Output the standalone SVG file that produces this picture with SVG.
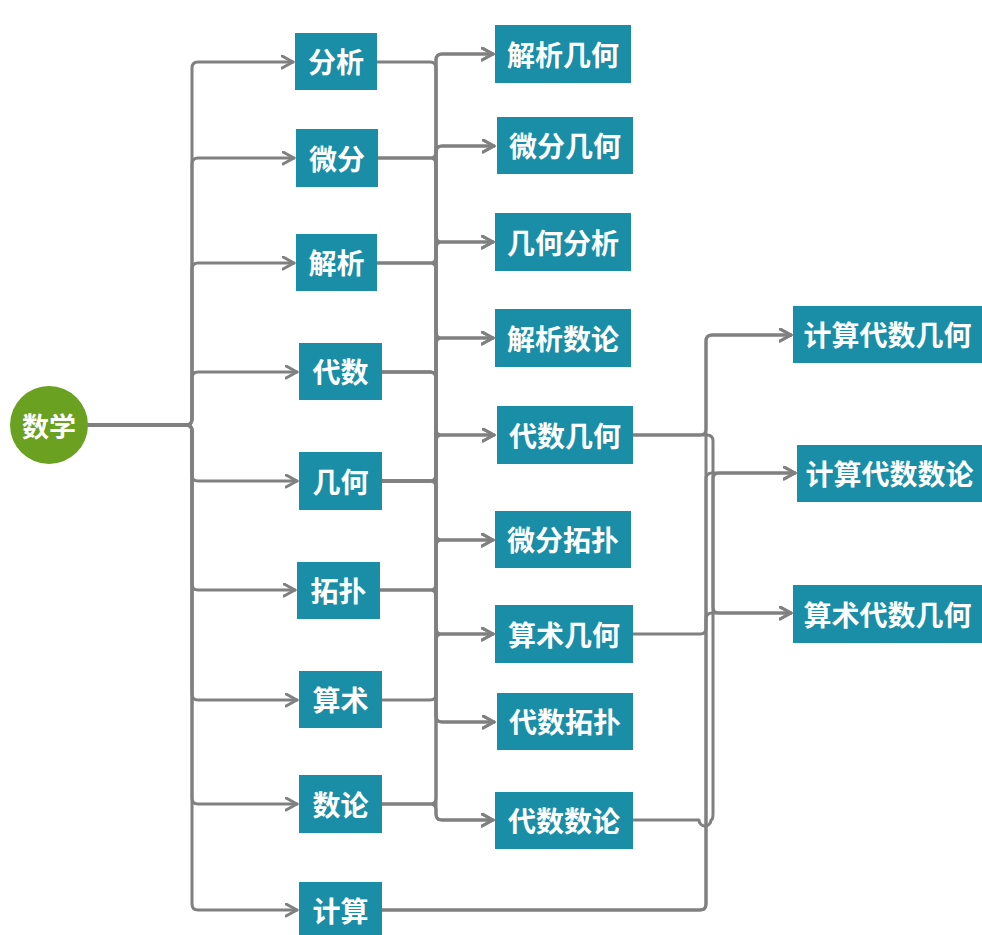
<svg xmlns="http://www.w3.org/2000/svg" width="982" height="935" viewBox="0 0 982 935">
<defs>
<style>
.box{fill:#1a8ea7}
.t{fill:#ffffff;font-family:"Noto Sans CJK SC","Noto Sans",sans-serif;font-weight:700;font-size:28px;text-anchor:middle;dominant-baseline:central}
.c{fill:none;stroke:#808080;stroke-width:3;stroke-linejoin:round;stroke-linecap:round}
.a{marker-end:url(#arr)}
</style>
<marker id="arr" markerUnits="userSpaceOnUse" markerWidth="16" markerHeight="16" refX="12" refY="7" orient="auto">
<path d="M1,1 L12,7 L1,13" fill="none" stroke="#808080" stroke-width="3" stroke-linejoin="round" stroke-linecap="round"/>
</marker>
</defs>
<rect width="982" height="935" fill="#ffffff"/>
<g id="connectors">
<path class="c" d="M88 425 H188" style="stroke-width:4"/>
<path class="c a" d="M88 425 H186 Q192 425 192 419 V68 Q192 62 198 62 H293"/>
<path class="c a" d="M88 425 H186 Q192 425 192 419 V164 Q192 158 198 158 H294"/>
<path class="c a" d="M88 425 H186 Q192 425 192 419 V269 Q192 263 198 263 H294"/>
<path class="c a" d="M88 425 H186 Q192 425 192 419 V378 Q192 372 198 372 H297"/>
<path class="c a" d="M88 425 H186 Q192 425 192 431 V475 Q192 481 198 481 H297"/>
<path class="c a" d="M88 425 H186 Q192 425 192 431 V584 Q192 590 198 590 H295"/>
<path class="c a" d="M88 425 H186 Q192 425 192 431 V694 Q192 700 198 700 H297"/>
<path class="c a" d="M88 425 H186 Q192 425 192 431 V798 Q192 804 198 804 H297"/>
<path class="c a" d="M88 425 H186 Q192 425 192 431 V904 Q192 910 198 910 H297"/>
<path class="c a" d="M377 263 H430 Q436 263 436 257 V60 Q436 54 442 54 H493"/>
<path class="c a" d="M382 481 H430 Q436 481 436 475 V60 Q436 54 442 54 H493"/>
<path class="c a" d="M378 158 H430 Q436 158 436 152 Q436 146 442 146 H494"/>
<path class="c a" d="M382 481 H430 Q436 481 436 475 V152 Q436 146 442 146 H494"/>
<path class="c a" d="M382 481 H430 Q436 481 436 475 V248 Q436 242 442 242 H493"/>
<path class="c a" d="M377 62 H430 Q436 62 436 68 V236 Q436 242 442 242 H493"/>
<path class="c a" d="M377 263 H430 Q436 263 436 269 V332 Q436 338 442 338 H493"/>
<path class="c a" d="M382 804 H430 Q436 804 436 798 V344 Q436 338 442 338 H493"/>
<path class="c a" d="M382 372 H430 Q436 372 436 378 V429 Q436 435 442 435 H494"/>
<path class="c a" d="M382 481 H430 Q436 481 436 475 V441 Q436 435 442 435 H494"/>
<path class="c a" d="M378 158 H430 Q436 158 436 164 V534 Q436 540 442 540 H493"/>
<path class="c a" d="M380 590 H430 Q436 590 436 584 V546 Q436 540 442 540 H493"/>
<path class="c a" d="M382 700 H430 Q436 700 436 694 V640 Q436 634 442 634 H493"/>
<path class="c a" d="M382 481 H430 Q436 481 436 487 V628 Q436 634 442 634 H493"/>
<path class="c a" d="M382 372 H430 Q436 372 436 378 V716 Q436 722 442 722 H494"/>
<path class="c a" d="M380 590 H430 Q436 590 436 596 V716 Q436 722 442 722 H494"/>
<path class="c a" d="M382 372 H430 Q436 372 436 378 V814 Q436 820 442 820 H493"/>
<path class="c a" d="M382 804 H430 Q436 804 436 810 V814 Q436 820 442 820 H493"/>
<path class="c a" d="M382 910 H700 Q706 910 706 904 V341 Q706 335 712 335 H791"/>
<path class="c a" d="M382 910 H700 Q706 910 706 904 V479 Q706 473 712 473 H795"/>
<path class="c a" d="M633 435 H700 Q706 435 706 429 V341 Q706 335 712 335 H791"/>
<path class="c a" d="M633 435 H707 Q713 435 713 441 V607 Q713 613 719 613 H791"/>
<path class="c a" d="M633 634 H700 Q706 634 706 628 V619 Q706 613 712 613 H791"/>
<path class="c a" d="M633 820 H699 A6 6 0 0 0 711 820 Q713 820 713 814 V479 Q713 473 719 473 H795"/>
</g>
<g id="n-root"><circle cx="49" cy="425" r="39" fill="#6aa120"/><text class="t" x="49" y="425" style="font-size:27px">数学</text></g>
<g id="n-fenxi"><rect class="box" x="295" y="33" width="82" height="57"/><text class="t" x="336" y="61">分析</text></g>
<g id="n-weifen"><rect class="box" x="296" y="129" width="82" height="58"/><text class="t" x="337" y="158">微分</text></g>
<g id="n-jiexi"><rect class="box" x="296" y="234" width="81" height="57"/><text class="t" x="336.5" y="262">解析</text></g>
<g id="n-daishu"><rect class="box" x="299" y="343" width="83" height="57"/><text class="t" x="340.5" y="371">代数</text></g>
<g id="n-jihe"><rect class="box" x="299" y="452" width="83" height="58"/><text class="t" x="340.5" y="481">几何</text></g>
<g id="n-tuopu"><rect class="box" x="297" y="562" width="83" height="57"/><text class="t" x="338.5" y="590">拓扑</text></g>
<g id="n-suanshu"><rect class="box" x="299" y="671" width="83" height="57"/><text class="t" x="340.5" y="699">算术</text></g>
<g id="n-shulun"><rect class="box" x="299" y="775" width="83" height="58"/><text class="t" x="340.5" y="804">数论</text></g>
<g id="n-jisuan"><rect class="box" x="299" y="882" width="83" height="60"/><text class="t" x="340.5" y="910">计算</text></g>
<g id="n-jiexijihe"><rect class="box" x="495" y="25" width="136" height="58"/><text class="t" x="563" y="54">解析几何</text></g>
<g id="n-weifenjihe"><rect class="box" x="497" y="117" width="136" height="57"/><text class="t" x="565" y="145">微分几何</text></g>
<g id="n-jihefenxi"><rect class="box" x="495" y="213" width="136" height="58"/><text class="t" x="563" y="242">几何分析</text></g>
<g id="n-jiexishulun"><rect class="box" x="495" y="309" width="136" height="58"/><text class="t" x="563" y="338">解析数论</text></g>
<g id="n-daishujihe"><rect class="box" x="497" y="406" width="136" height="58"/><text class="t" x="565" y="435">代数几何</text></g>
<g id="n-weifentuopu"><rect class="box" x="495" y="511" width="136" height="57"/><text class="t" x="563" y="539">微分拓扑</text></g>
<g id="n-suanshujihe"><rect class="box" x="495" y="605" width="138" height="58"/><text class="t" x="564" y="634">算术几何</text></g>
<g id="n-daishutuopu"><rect class="box" x="497" y="693" width="136" height="57"/><text class="t" x="565" y="721">代数拓扑</text></g>
<g id="n-daishushulun"><rect class="box" x="495" y="792" width="138" height="57"/><text class="t" x="564" y="820">代数数论</text></g>
<g id="n-jisuandaishujihe"><rect class="box" x="793" y="306" width="189" height="57"/><text class="t" x="887.5" y="334">计算代数几何</text></g>
<g id="n-jisuandaishushulun"><rect class="box" x="797" y="445" width="185" height="57"/><text class="t" x="889.5" y="473">计算代数数论</text></g>
<g id="n-suanshudaishujihe"><rect class="box" x="793" y="585" width="189" height="58"/><text class="t" x="887.5" y="614">算术代数几何</text></g>
</svg>
